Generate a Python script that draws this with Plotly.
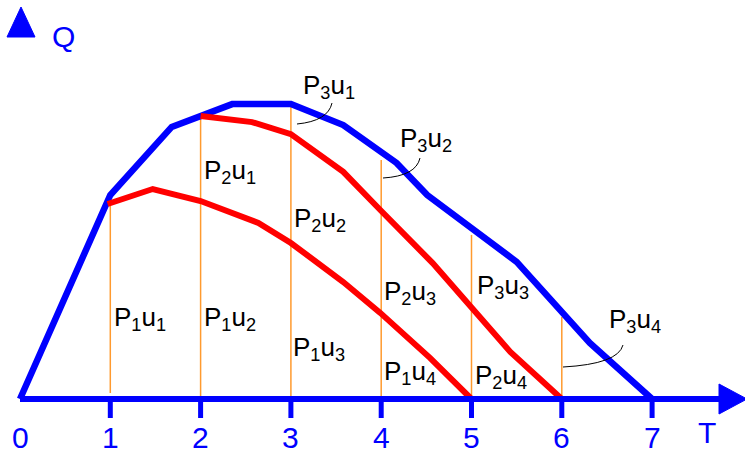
import plotly.graph_objects as go

# ---------------- data ----------------
T_P3 = [0.0, 1.0, 1.68, 2.35, 3.0, 3.58, 4.17, 4.51, 5.5, 6.31, 7.0]
Q_P3 = [0.0, 6.8, 9.07, 9.83, 9.83, 9.13, 7.87, 6.8, 4.57, 1.87, 0.0]

T_P2 = [2.0, 2.57, 3.0, 3.58, 3.99, 4.57, 5.43, 6.0]
Q_P2 = [9.43, 9.23, 8.83, 7.57, 6.3, 4.53, 1.57, 0.0]

T_P1 = [0.97, 1.47, 2.0, 2.64, 3.0, 3.58, 3.99, 4.54, 5.0]
Q_P1 = [6.5, 7.0, 6.6, 5.87, 5.2, 3.9, 2.87, 1.37, 0.0]

DIV_T = [1, 2, 3, 4, 5, 6]
DIV_TOP = [6.5, 9.43, 9.83, 7.97, 5.47, 2.73]
DIV_BOTTOM = [0.2, 0, 0, 0, 0, 0]

TICK_T = [0, 1, 2, 3, 4, 5, 6, 7]
TICK_LABELS = ["0", "1", "2", "3", "4", "5", "6", "7"]

LABELS = [("1", "1"), ("1", "2"), ("1", "3"), ("1", "4"),
          ("2", "1"), ("2", "2"), ("2", "3"), ("2", "4"),
          ("3", "1"), ("3", "2"), ("3", "3"), ("3", "4")]

# ---------------- layout helpers (pixel -> data) ----------------
W, H = 745, 456
def X(px):
    return (px - 20) / 90.3
def Y(py):
    return (399 - py) / 30.0

BLUE = "#0000FF"
RED = "#FF0000"
ORANGE = "#FF9A2E"
FONT = "Arial, Liberation Sans, sans-serif"

fig = go.Figure()

# orange dividers
dx, dy = [], []
for t, top, bot in zip(DIV_T, DIV_TOP, DIV_BOTTOM):
    dx += [t, t, None]
    dy += [bot, top, None]
fig.add_trace(go.Scatter(x=dx, y=dy, mode="lines", line=dict(color=ORANGE, width=1.5),
                         hoverinfo="skip", showlegend=False))

fig.add_trace(go.Scatter(x=T_P3, y=Q_P3, mode="lines", line=dict(color=BLUE, width=6.5),
                         showlegend=False))
fig.add_trace(go.Scatter(x=T_P2, y=Q_P2, mode="lines", line=dict(color=RED, width=6),
                         showlegend=False))
fig.add_trace(go.Scatter(x=T_P1, y=Q_P1, mode="lines", line=dict(color=RED, width=6),
                         showlegend=False))

shapes = []
# horizontal axis
shapes.append(dict(type="line", xref="x", yref="y", x0=X(20), x1=X(722), y0=0, y1=0,
                   line=dict(color=BLUE, width=6), layer="above"))
shapes.append(dict(type="path", xref="x", yref="y",
                   path=f"M {X(719)} {Y(384)} L {X(747)} {Y(399)} L {X(719)} {Y(414)} Z",
                   fillcolor=BLUE, line=dict(color=BLUE, width=1), layer="above"))
# tick marks
for t in TICK_T[1:]:
    shapes.append(dict(type="line", xref="x", yref="y", x0=t, x1=t, y0=0, y1=Y(418),
                       line=dict(color=BLUE, width=5), layer="above"))
# Q arrowhead
shapes.append(dict(type="path", xref="x", yref="y",
                   path=f"M {X(7)} {Y(37)} L {X(21)} {Y(7)} L {X(35)} {Y(37)} Z",
                   fillcolor=BLUE, line=dict(color=BLUE, width=1)))
# leader curves
for (x0, y0, cx, cy, x1, y1) in [(297, 124, 328, 121, 332, 103),
                                 (383, 178, 416, 176, 420, 158),
                                 (563, 367, 618, 364, 623, 345)]:
    shapes.append(dict(type="path", xref="x", yref="y",
                       path=f"M {X(x0)} {Y(y0)} Q {X(cx)} {Y(cy)} {X(x1)} {Y(y1)}",
                       line=dict(color="black", width=1)))

annotations = []
for t, lab in zip(TICK_T, TICK_LABELS):
    annotations.append(dict(x=t, y=Y(437), text=lab, showarrow=False, xanchor="center",
                            yanchor="middle", font=dict(family=FONT, size=30, color=BLUE)))
annotations.append(dict(x=X(707), y=Y(432), text="T", showarrow=False, xanchor="center",
                        yanchor="middle", font=dict(family=FONT, size=30, color=BLUE)))
annotations.append(dict(x=X(63), y=Y(36), text="Q", showarrow=False, xanchor="center",
                        yanchor="middle", font=dict(family=FONT, size=30, color=BLUE)))

label_pos = [(112, 318), (202, 318), (291, 348), (382, 372),
             (202, 171), (292, 219), (382, 292), (473, 376),
             (301, 86), (398, 139), (475, 286), (607, 320)]
for (p, u), (px, py) in zip(LABELS, label_pos):
    annotations.append(dict(x=X(px), y=Y(py), text=f"P<sub>{p}</sub>u<sub>{u}</sub>",
                            showarrow=False, xanchor="left", yanchor="middle",
                            font=dict(family=FONT, size=26, color="black")))

fig.update_layout(
    width=W, height=H, margin=dict(l=0, r=0, t=0, b=0),
    paper_bgcolor="white", plot_bgcolor="white",
    xaxis=dict(visible=False, range=[X(0), X(W)], fixedrange=True),
    yaxis=dict(visible=False, range=[Y(H), Y(0)], fixedrange=True),
    shapes=shapes, annotations=annotations, showlegend=False,
)

fig.write_html("out.html", config={"displayModeBar": False},
               post_script="document.body.style.margin='0';document.body.style.overflow='hidden';")
